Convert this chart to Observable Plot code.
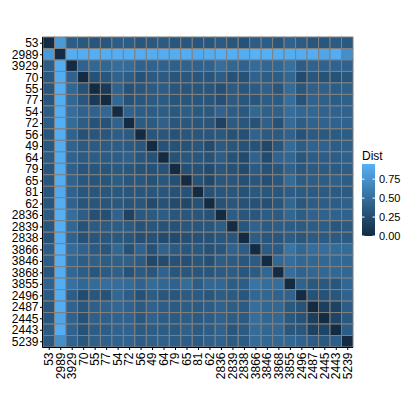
<!DOCTYPE html>
<html>
<head>
<meta charset="utf-8">
<script src="https://cdn.jsdelivr.net/npm/d3@7"></script>
<script src="https://cdn.jsdelivr.net/npm/@observablehq/plot@0.6"></script>
<style>
  html, body { margin: 0; padding: 0; background: white; overflow: hidden; }
  #chart { position: relative; width: 420px; height: 420px; }
  #chart svg { display: block; max-width: none; }
</style>
</head>
<body>
<div id="chart"></div>
<script>
// Category labels (rows top-to-bottom, columns left-to-right)
const labels = ["53","2989","3929","70","55","77","54","72","56","49","64","79","65","81","62",
  "2836","2839","2838","3866","3846","3868","3855","2496","2487","2445","2443","5239"];

// Lower triangle of the symmetric distance matrix (row i, columns 0..i)
const r0  = [0];
const r1  = [0.80, 0];
const r2  = [0.38, 0.93, 0];
const r3  = [0.35, 0.92, 0.42, 0];
const r4  = [0.33, 0.93, 0.45, 0.30, 0];
const r5  = [0.33, 0.92, 0.45, 0.33, 0.12, 0];
const r6  = [0.38, 0.93, 0.50, 0.42, 0.42, 0.45, 0];
const r7  = [0.38, 0.93, 0.48, 0.38, 0.30, 0.30, 0.42, 0];
const r8  = [0.33, 0.92, 0.42, 0.30, 0.33, 0.33, 0.38, 0.36, 0];
const r9  = [0.35, 0.92, 0.42, 0.36, 0.36, 0.36, 0.38, 0.36, 0.33, 0];
const r10 = [0.36, 0.92, 0.42, 0.36, 0.38, 0.36, 0.38, 0.40, 0.33, 0.30, 0];
const r11 = [0.33, 0.92, 0.40, 0.32, 0.33, 0.32, 0.35, 0.33, 0.30, 0.30, 0.30, 0];
const r12 = [0.33, 0.92, 0.42, 0.33, 0.32, 0.32, 0.38, 0.33, 0.33, 0.30, 0.33, 0.28, 0];
const r13 = [0.33, 0.90, 0.42, 0.33, 0.33, 0.33, 0.35, 0.33, 0.33, 0.33, 0.33, 0.30, 0.30, 0];
const r14 = [0.33, 0.92, 0.42, 0.32, 0.32, 0.32, 0.35, 0.32, 0.33, 0.25, 0.30, 0.25, 0.22, 0.30, 0];
const r15 = [0.36, 0.94, 0.50, 0.38, 0.28, 0.28, 0.42, 0.18, 0.35, 0.36, 0.38, 0.33, 0.33, 0.33, 0.30, 0];
const r16 = [0.33, 0.93, 0.45, 0.30, 0.36, 0.36, 0.38, 0.36, 0.30, 0.33, 0.30, 0.30, 0.33, 0.33, 0.33, 0.38, 0];
const r17 = [0.30, 0.92, 0.42, 0.30, 0.33, 0.33, 0.35, 0.33, 0.28, 0.30, 0.25, 0.25, 0.28, 0.30, 0.30, 0.33, 0.33, 0];
const r18 = [0.38, 0.95, 0.48, 0.42, 0.36, 0.33, 0.45, 0.30, 0.42, 0.30, 0.42, 0.36, 0.33, 0.35, 0.30, 0.33, 0.42, 0.38, 0];
const r19 = [0.38, 0.94, 0.45, 0.38, 0.40, 0.38, 0.40, 0.40, 0.36, 0.22, 0.25, 0.30, 0.28, 0.33, 0.28, 0.38, 0.36, 0.33, 0.36, 0];
const r20 = [0.33, 0.92, 0.45, 0.38, 0.33, 0.36, 0.40, 0.30, 0.36, 0.33, 0.42, 0.33, 0.33, 0.33, 0.33, 0.36, 0.38, 0.33, 0.36, 0.45, 0];
const r21 = [0.42, 0.92, 0.52, 0.45, 0.48, 0.50, 0.50, 0.48, 0.42, 0.48, 0.45, 0.42, 0.48, 0.38, 0.45, 0.45, 0.38, 0.38, 0.55, 0.50, 0.50, 0];
const r22 = [0.36, 0.92, 0.38, 0.25, 0.33, 0.30, 0.45, 0.38, 0.30, 0.38, 0.33, 0.33, 0.36, 0.36, 0.33, 0.38, 0.36, 0.33, 0.45, 0.45, 0.42, 0.42, 0];
const r23 = [0.33, 0.92, 0.42, 0.33, 0.40, 0.42, 0.45, 0.42, 0.36, 0.42, 0.38, 0.36, 0.38, 0.36, 0.38, 0.42, 0.38, 0.36, 0.50, 0.45, 0.45, 0.35, 0.30, 0];
const r24 = [0.33, 0.87, 0.42, 0.30, 0.40, 0.40, 0.42, 0.42, 0.35, 0.42, 0.38, 0.36, 0.38, 0.36, 0.38, 0.42, 0.38, 0.36, 0.50, 0.45, 0.45, 0.35, 0.30, 0.15, 0];
const r25 = [0.36, 0.92, 0.42, 0.30, 0.38, 0.38, 0.42, 0.42, 0.36, 0.38, 0.38, 0.36, 0.40, 0.36, 0.38, 0.42, 0.33, 0.36, 0.48, 0.45, 0.45, 0.33, 0.33, 0.18, 0.20, 0];
const r26 = [0.35, 0.72, 0.42, 0.33, 0.40, 0.40, 0.42, 0.42, 0.38, 0.40, 0.40, 0.38, 0.38, 0.36, 0.40, 0.42, 0.36, 0.36, 0.48, 0.45, 0.45, 0.45, 0.42, 0.38, 0.35, 0.38, 0];

const lower = [r0,r1,r2,r3,r4,r5,r6,r7,r8,r9,r10,r11,r12,r13,r14,r15,r16,r17,r18,r19,r20,r21,r22,r23,r24,r25,r26];
const legendTicks = [0, 0.25, 0.5, 0.75];

// Build the full symmetric table
const cells = [];
labels.forEach((rl, i) => labels.forEach((cl, j) => {
  cells.push({row: rl, col: cl, Dist: j <= i ? lower[i][j] : lower[j][i]});
}));
const vmax = d3.max(cells, d => d.Dist);

const chart = Plot.plot({
  width: 420, height: 420,
  marginLeft: 43, marginRight: 67, marginTop: 37, marginBottom: 73,
  style: {fontFamily: "'Liberation Sans', Arial, sans-serif", fontSize: "12px", color: "black", background: "white"},
  x: {domain: labels, padding: 0, round: false, label: null},
  y: {domain: labels, padding: 0, round: false, label: null},
  color: {type: "linear", domain: [0, vmax], range: ["#132B43", "#56B1F7"], interpolate: d3.interpolateLab},
  marks: [
    Plot.cell(cells, {x: "col", y: "row", fill: "Dist", stroke: "#808080", strokeWidth: 1}),
    Plot.axisX({tickRotate: -90, tickSize: 3, tickPadding: 2, fontSize: 12, label: null}),
    Plot.axisY({tickSize: 3, tickPadding: 2, fontSize: 12, label: null})
  ]
});
document.getElementById("chart").appendChild(chart);

const svg = d3.select(chart);
// Axis lines (left and bottom only), positioned from the plot's own scales
const xr = chart.scale("x").range, yr = chart.scale("y").range;
const axl = svg.append("g").attr("stroke", "black").attr("stroke-width", 1);
axl.append("line").attr("x1", xr[0] - 0.5).attr("x2", xr[0] - 0.5).attr("y1", yr[0]).attr("y2", yr[1] + 0.5);
axl.append("line").attr("x1", xr[0] - 0.5).attr("x2", xr[1]).attr("y1", yr[1] + 0.5).attr("y2", yr[1] + 0.5);

// Colorbar legend (ggplot style) drawn from the plot's own color scale
const cs = Plot.scale({color: chart.scale("color")});
const bx = 362, bw = 13, btop = 164, bbot = 236;
const ly = d3.scaleLinear().domain([0, vmax]).range([bbot, btop]);
const grad = svg.append("defs").append("linearGradient").attr("id", "cbar")
  .attr("x1", 0).attr("y1", 1).attr("x2", 0).attr("y2", 0);
d3.range(0, 21).forEach(k => {
  const t = k / 20;
  grad.append("stop").attr("offset", t).attr("stop-color", cs.apply(t * vmax));
});
const lg = svg.append("g").attr("text-anchor", "start");
lg.append("text").attr("x", bx).attr("y", 160).attr("font-size", 12).attr("fill", "black").text("Dist");
lg.append("rect").attr("x", bx).attr("y", btop).attr("width", bw).attr("height", bbot - btop).attr("fill", "url(#cbar)");
legendTicks.forEach(v => {
  const y = ly(v);
  lg.append("line").attr("x1", bx).attr("x2", bx + 2.5).attr("y1", y).attr("y2", y).attr("stroke", "white");
  lg.append("line").attr("x1", bx + bw - 2.5).attr("x2", bx + bw).attr("y1", y).attr("y2", y).attr("stroke", "white");
  lg.append("text").attr("x", bx + bw + 4).attr("y", y).attr("dy", "0.35em").attr("font-size", 11)
    .attr("fill", "black").text(v.toFixed(2));
});
</script>
</body>
</html>
